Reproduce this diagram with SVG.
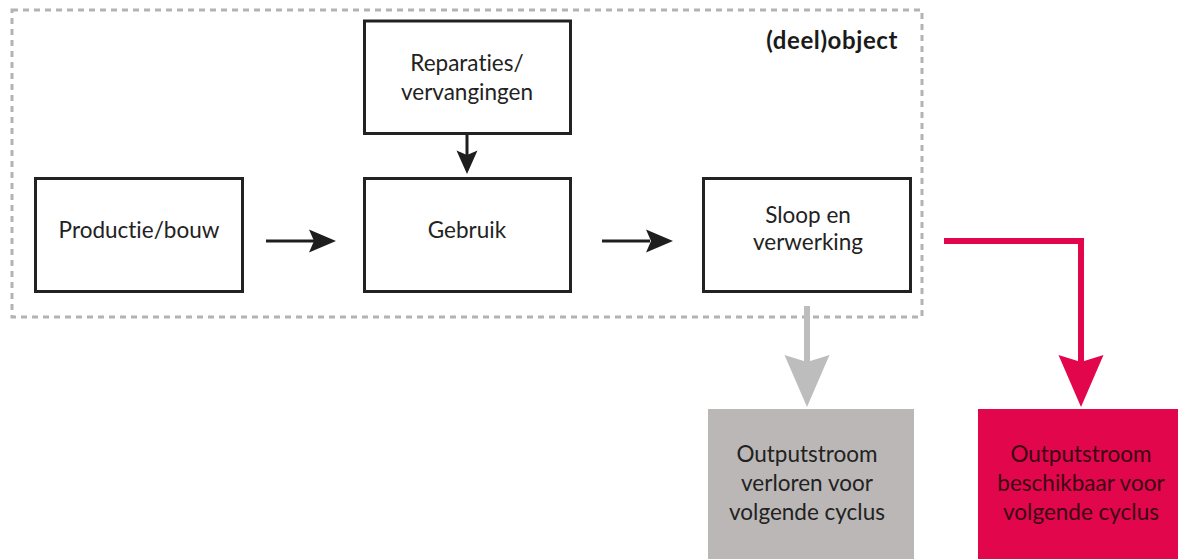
<svg xmlns="http://www.w3.org/2000/svg" width="1178" height="559" viewBox="0 0 1178 559">
  <style>
    .box { fill: #ffffff; stroke: #222222; stroke-width: 3; }
    .lbl { font-family: Lato, "Liberation Sans", sans-serif; font-size: 22.5px; fill: #222222; text-anchor: middle; font-variant-ligatures: none; }
    .dark { fill: #3b0514; }
    .frame { fill: none; stroke: #b3b3b3; stroke-width: 3; stroke-dasharray: 6 5; }
    .title { font-family: Lato, "Liberation Sans", sans-serif; font-size: 24px; font-weight: bold; fill: #1a1a1a; text-anchor: end; letter-spacing: 0.6px; }
    .link { fill: none; stroke: #1e1e1e; stroke-width: 3; }
  </style>

  <!-- (deel)object boundary -->
  <g id="frame">
    <rect class="frame" x="12" y="10" width="910" height="307"/>
    <text class="title" x="898" y="49">(deel)object</text>
  </g>

  <g id="productie">
    <rect class="box" x="35.5" y="178.5" width="207" height="113"/>
    <text class="lbl" x="139" y="238">Productie/bouw</text>
  </g>

  <g id="reparaties">
    <rect class="box" x="364.5" y="21" width="206" height="112.5"/>
    <text class="lbl" x="467" y="71">Reparaties/</text>
    <text class="lbl" x="467" y="100">vervangingen</text>
  </g>

  <g id="gebruik">
    <rect class="box" x="364.5" y="178.5" width="206" height="113"/>
    <text class="lbl" x="467" y="238">Gebruik</text>
  </g>

  <g id="sloop">
    <rect class="box" x="703.5" y="178.5" width="207" height="113"/>
    <text class="lbl" x="808" y="223">Sloop en</text>
    <text class="lbl" x="808" y="250">verwerking</text>
  </g>

  <g id="output-verloren">
    <rect x="708" y="409" width="206" height="150" fill="#bab7b6"/>
    <text class="lbl" x="807" y="462">Outputstroom</text>
    <text class="lbl" x="807" y="491">verloren voor</text>
    <text class="lbl" x="807" y="520">volgende cyclus</text>
  </g>

  <g id="output-beschikbaar">
    <rect x="978" y="409" width="200" height="150" fill="#e2074c"/>
    <text class="lbl dark" x="1081" y="462">Outputstroom</text>
    <text class="lbl dark" x="1081" y="491">beschikbaar voor</text>
    <text class="lbl dark" x="1081" y="520">volgende cyclus</text>
  </g>

  <g id="connectors">
    <!-- Productie/bouw -> Gebruik -->
    <line class="link" x1="266" y1="241" x2="314" y2="241"/>
    <path d="M336,241 L309,229.5 L314,241 L309,252.5 Z" fill="#1e1e1e"/>
    <!-- Gebruik -> Sloop en verwerking -->
    <line class="link" x1="602" y1="241" x2="650" y2="241"/>
    <path d="M673,241 L646,229.5 L651,241 L646,252.5 Z" fill="#1e1e1e"/>
    <!-- Reparaties -> Gebruik -->
    <line class="link" x1="467" y1="135" x2="467" y2="155"/>
    <path d="M467,174 L456.5,150.5 L467,155 L477.5,150.5 Z" fill="#1e1e1e"/>
    <!-- Sloop -> verloren -->
    <line x1="807" y1="306" x2="807" y2="362" stroke="#bdbdbd" stroke-width="6"/>
    <path d="M807,407 L784.5,355 L807,362 L829.5,355 Z" fill="#bdbdbd"/>
    <!-- Sloop -> beschikbaar -->
    <polyline points="944,241 1081,241 1081,362" fill="none" stroke="#e2074c" stroke-width="6"/>
    <path d="M1081,407 L1058.5,355 L1081,362 L1103.5,355 Z" fill="#e2074c"/>
  </g>
</svg>
